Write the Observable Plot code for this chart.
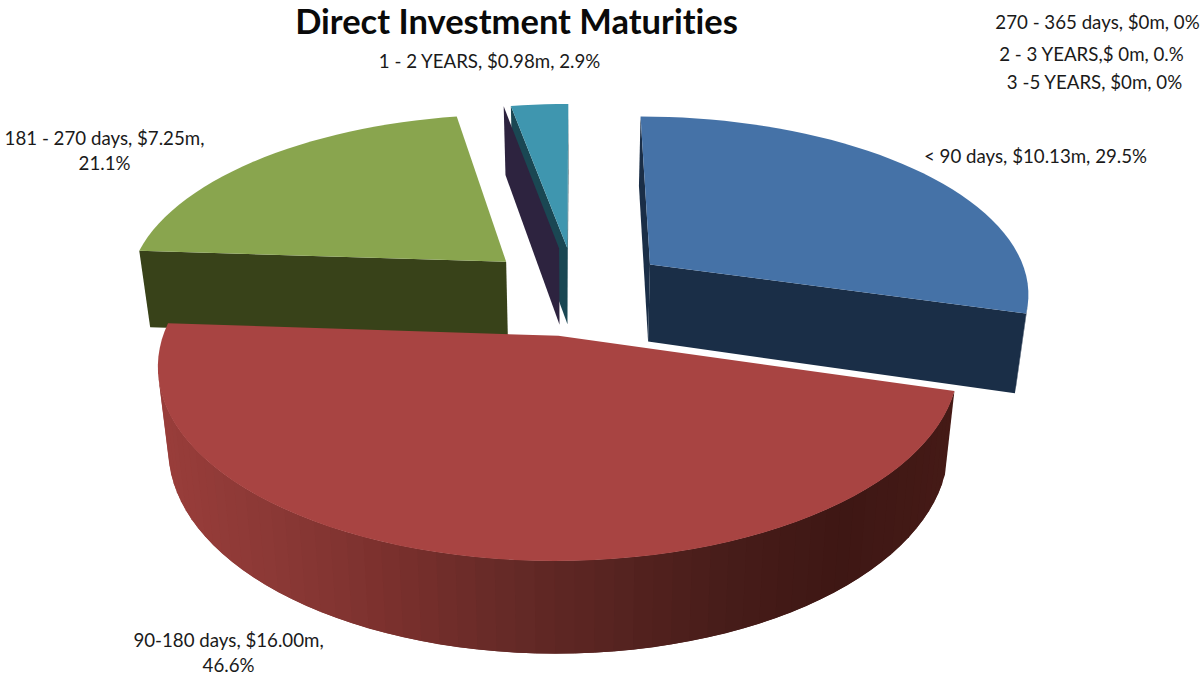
<!DOCTYPE html>
<html>
<head>
<meta charset="utf-8">
<style>
  html, body { margin: 0; padding: 0; background: #fff; }
  svg { display: block; }
  svg text { font-variant-ligatures: none; }
</style>
<script src="https://cdn.jsdelivr.net/npm/d3@7"></script>
<script src="https://cdn.jsdelivr.net/npm/@observablehq/plot@0.6"></script>
</head>
<body>
<div id="chart"></div>
<script>
// Maturity buckets and the amounts held in each, in $ millions.
const categories = ["< 90 days", "90-180 days", "181 - 270 days", "270 - 365 days", "1 - 2 YEARS", "2 - 3 YEARS", "3 -5 YEARS"];
const amounts = [10.13, 16.00, 7.25, 0, 0.98, 0, 0];

// Label text as printed beside each slice.
const labelTexts = [
  "< 90 days, $10.13m, 29.5%",
  "90-180 days, $16.00m,\n46.6%",
  "181 - 270 days, $7.25m,\n21.1%",
  "270 - 365 days, $0m, 0%",
  "1 - 2 YEARS, $0.98m, 2.9%",
  "2 - 3 YEARS,$ 0m, 0.%",
  "3 -5 YEARS, $0m, 0%"
];
const labelX = [1035, 228, 104, 1097, 489, 1091, 1094];
const labelY = [154, 651, 149, 20, 59, 52, 80];

const topColors = ["#4572a7", "#a84442", "#89a54e", "#71588f", "#3f96af", "#db843d", "#4572a7"];
const wallColors = ["#1a2e47", "#4a1c19", "#384219", "#2d233f", "#1a4753", "#2d233f", "#2d233f"];

// Shading of the large slice's rim, from its left edge to its right edge.
const rimStops = ["#983d3a", "#8a3835", "#7a302d", "#662a27", "#562320", "#471c19", "#3e1714", "#451a16"];

// Perspective of the pie's plane: unit-radius pie, slices pulled out by a shared fraction.
const view = {cx: 575, cy: 290, sx: 381, sy: 177, tilt: 0.148, pull: 0.25};
const depth = {base: 15.5, scale: 63, taper: 0.025};

function project(px, py) {
  const d = 1 - view.tilt * py;
  return {x: view.cx + view.sx * px / d, y: view.cy + view.sy * py / d, d};
}
function lowered(p) {
  return {
    x: p.x - depth.taper * (p.x - view.cx),
    y: p.y + depth.base + depth.scale / p.d
  };
}
// Twice the signed screen area of a face, used to drop faces turned away from the viewer.
function winding(points) {
  return d3.sum(points, (p, i) => {
    const q = points[(i + 1) % points.length];
    return p.x * q.y - q.x * p.y;
  });
}

const arcs = d3.pie().sort(null).value((d) => d)(amounts);

const rows = [];
let nextFace = 0;
function face(points, fill) {
  const id = nextFace++;
  for (const p of points) rows.push({id, x: p.x, y: p.y, fill});
}

// Each slice is a stack of faces: rim bands, the two cut walls, then the top.
function drawSlice(i) {
  const a = arcs[i];
  const mid = (a.startAngle + a.endAngle) / 2;
  const ox = view.pull * Math.sin(mid);
  const oy = -view.pull * Math.cos(mid);
  const at = (t) => project(ox + Math.sin(t), oy - Math.cos(t));
  const apex = project(ox, oy);
  const span = a.endAngle - a.startAngle;
  const bands = Math.max(1, Math.ceil(span / (2.5 * Math.PI / 180)));
  const rim = [];
  for (let k = 0; k <= bands; k++) rim.push(at(a.startAngle + span * k / bands));

  const shade = d3.scaleLinear()
    .domain(d3.range(rimStops.length).map((k) => 165 + k * (955 - 165) / (rimStops.length - 1)))
    .range(rimStops)
    .clamp(true);

  if (span > 0) {
    for (let k = 0; k < bands; k++) {
      const p = rim[k], q = rim[k + 1];
      if (winding([p, q, lowered(q), lowered(p)]) >= 0) continue;
      // Each band runs under the next one so no seam opens between them.
      const reach = rim[Math.min(k + 2, bands)];
      face([p, reach, lowered(reach), lowered(p)], i === 1 ? shade((p.x + q.x) / 2) : wallColors[i]);
    }
  }
  const first = rim[0], last = rim[bands];
  const startWall = [apex, first, lowered(first), lowered(apex)];
  const endWall = [apex, last, lowered(last), lowered(apex)];
  if (winding(startWall) < 0) face(startWall, wallColors[i]);
  if (winding(endWall) > 0) face(endWall, wallColors[i]);
  if (span > 0) face([apex, ...rim], topColors[i]);
}

// Painted back to front.
[2, 4, 3, 5, 6, 0, 1].forEach(drawSlice);

const labels = categories.map((name, i) => ({name, text: labelTexts[i], x: labelX[i], y: labelY[i]}));
const title = [{text: "Direct Investment Maturities", x: 516, y: 22}];

const chart = Plot.plot({
  width: 1202,
  height: 675,
  margin: 0,
  x: {domain: [0, 1202], range: [0, 1202], axis: null},
  y: {domain: [0, 675], range: [0, 675], axis: null},
  color: {type: "identity"},
  style: {background: "#fff"},
  marks: [
    Plot.line(rows, {x: "x", y: "y", z: "id", fill: "fill", stroke: "none", curve: "linear-closed"}),
    Plot.text(labels, {
      x: "x", y: "y", text: "text",
      fontFamily: "Lato", fontSize: 18.7, fill: "#1a1a1a", lineHeight: 1.34
    }),
    Plot.text(title, {
      x: "x", y: "y", text: "text",
      fontFamily: "Lato", fontWeight: 700, fontSize: 34.5, fill: "#0a0a0a"
    })
  ]
});
document.getElementById("chart").append(chart);
</script>
</body>
</html>
